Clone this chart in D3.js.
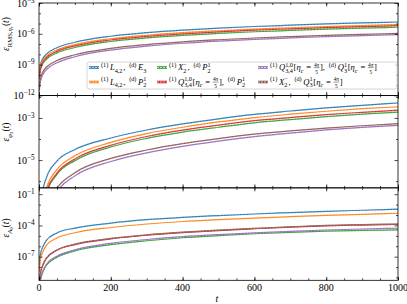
<!DOCTYPE html>
<html>
<head>
<meta charset="utf-8"/>
<script src="https://cdn.jsdelivr.net/npm/d3@7"></script>
<style>
body{margin:0;background:#fff;}
svg{display:block;font-family:"Liberation Serif","DejaVu Serif",serif;}
</style>
</head>
<body>
<svg id="chart" width="407" height="304"></svg>
<script>
// time samples and log10 of the errors
var tSamples = [1, 2, 5, 10, 20, 50, 100, 200, 300, 400, 500, 600, 700, 800, 900, 1000];

var rmsBlue   = [-9.95, -9.5, -8.9, -8.45, -8.0, -7.35, -6.82, -6.24, -5.89, -5.64, -5.45, -5.29, -5.16, -5.04, -4.94, -4.85];
var rmsOrange = [-10.12, -9.67, -9.08, -8.64, -8.2, -7.57, -7.05, -6.48, -6.14, -5.89, -5.70, -5.54, -5.41, -5.29, -5.19, -5.10];
var rmsGreen  = [-10.45, -10.0, -9.4, -8.95, -8.5, -7.86, -7.33, -6.75, -6.4, -6.15, -5.96, -5.80, -5.67, -5.55, -5.45, -5.36];
var rmsRed    = [-10.3, -9.85, -9.25, -8.8, -8.35, -7.71, -7.18, -6.6, -6.25, -6.0, -5.81, -5.65, -5.52, -5.40, -5.30, -5.21];
var rmsPurple = [-11.6, -11.12, -10.5, -10.02, -9.52, -8.82, -8.23, -7.58, -7.2, -6.92, -6.71, -6.54, -6.4, -6.28, -6.17, -6.08];
var rmsBrown  = [-11.3, -10.83, -10.22, -9.75, -9.28, -8.6, -8.04, -7.42, -7.05, -6.78, -6.58, -6.41, -6.27, -6.15, -6.05, -5.96];

var phiBlue   = [-8.6, -8.0, -7.2, -6.5, -5.87, -5.05, -4.5, -3.95, -3.57, -3.28, -3.04, -2.83, -2.67, -2.52, -2.4, -2.29];
var phiOrange = [-9.2, -8.6, -7.8, -7.05, -6.37, -5.45, -4.8, -4.16, -3.74, -3.44, -3.19, -2.98, -2.82, -2.68, -2.56, -2.47];
var phiGreen  = [-9.5, -8.9, -8.1, -7.35, -6.62, -5.68, -5.03, -4.38, -3.97, -3.67, -3.44, -3.23, -3.08, -2.94, -2.82, -2.72];
var phiRed    = [-9.4, -8.8, -8.0, -7.25, -6.55, -5.62, -4.95, -4.3, -3.88, -3.58, -3.34, -3.13, -2.98, -2.84, -2.73, -2.63];
var phiPurple = [-10.4, -9.8, -8.95, -8.25, -7.5, -6.5, -5.75, -5.07, -4.66, -4.35, -4.1, -3.89, -3.72, -3.57, -3.45, -3.35];
var phiBrown  = [-10.2, -9.6, -8.75, -8.05, -7.3, -6.33, -5.6, -4.92, -4.52, -4.22, -3.98, -3.77, -3.61, -3.48, -3.37, -3.27];

var a0Blue    = [-8.0, -7.4, -6.6, -6.1, -5.45, -4.72, -4.25, -3.78, -3.45, -3.22, -3.05, -2.9, -2.77, -2.65, -2.54, -2.44];
var a0Orange  = [-8.5, -7.9, -7.1, -6.6, -5.94, -5.2, -4.7, -4.2, -3.86, -3.62, -3.45, -3.29, -3.16, -3.04, -2.93, -2.83];
var a0Green   = [-10.4, -9.8, -9.1, -8.55, -7.85, -7.05, -6.45, -5.85, -5.47, -5.18, -4.98, -4.8, -4.66, -4.55, -4.48, -4.43];
var a0Red     = [-9.74, -9.14, -8.44, -7.89, -7.19, -6.39, -5.84, -5.29, -4.94, -4.69, -4.49, -4.32, -4.17, -4.04, -3.96, -3.9];
var a0Purple  = [-10.3, -9.7, -9.0, -8.45, -7.75, -6.95, -6.35, -5.72, -5.35, -5.07, -4.88, -4.72, -4.57, -4.44, -4.34, -4.27];
var a0Brown   = [-9.7, -9.1, -8.4, -7.85, -7.15, -6.35, -5.8, -5.25, -4.9, -4.65, -4.45, -4.28, -4.13, -4.0, -3.92, -3.86];

var xTicks = [0, 200, 400, 600, 800, 1000];
var colors = ["#1f77b4", "#ff7f0e", "#2ca02c", "#d62728", "#9467bd", "#8c564b"];

var sp = ["sp", 0.45];
var gp = ["sp", 0.12];
var eta = [["r", "["], ["i", "η"], ["ss", null, "c", true], ["sp", 0.25], ["r", "="], ["sp", 0.25], ["f", "4π", "5"], ["r", "]"]];
var legendLabels = [
  [["ss", "(1)", null], gp, ["i", "L"], ["ss", null, "4,2"], ["r", ","], sp, ["ss", "(d)", null], gp, ["i", "E"], ["ss", null, "3"]],
  [["ss", "(1)", null], gp, ["i", "L"], ["ss", null, "4,2"], ["r", ","], sp, ["ss", "(d)", null], gp, ["i", "P"], ["ss", "1", "2"]],
  [["ss", "(1)", null], gp, ["i", "X"], ["ss", "−", "2"], ["r", " ,"], sp, ["ss", "(d)", null], gp, ["i", "P"], ["ss", "1", "2"]],
  [["ss", "(1)", null], gp, ["i", "Q"], ["ss", "1,0", "3,4"]].concat(eta, [["r", ","], sp, ["ss", "(d)", null], gp, ["i", "P"], ["ss", "1", "2"]]),
  [["ss", "(1)", null], gp, ["i", "Q"], ["ss", "1,0", "3,4"]].concat(eta, [["r", ","], sp, ["ss", "(d)", null], gp, ["i", "Q"], ["ss", "1", "3"]], eta),
  [["ss", "(1)", null], gp, ["i", "X"], ["ss", "−", "2"], ["r", " ,"], sp, ["ss", "(d)", null], gp, ["i", "Q"], ["ss", "1", "3"]].concat(eta)
];

var panels = [
  {dom: [-12, -3], major: [-12, -9, -6, -3], minor: [-11, -10, -8, -7, -5, -4],
   series: [rmsBlue, rmsOrange, rmsGreen, rmsRed, rmsPurple, rmsBrown],
   label: [["hat", "ε"], ["t", "RMS, ", 0.7, 0.3, false], ["t", "η", 0.7, 0.3, true], ["t", "c", 0.5, 0.45, true], ["r", "("], ["i", "t"], ["r", ")"]], labelY: 34},
  {dom: [-6.32, -1.93], major: [-5, -3], minor: [-6, -4, -2],
   series: [phiBlue, phiOrange, phiGreen, phiRed, phiPurple, phiBrown],
   label: [["hat", "ε"], ["t", "φ", 0.7, 0.3, true], ["t", "2", 0.5, 0.45, false], ["r", "("], ["i", "t"], ["r", ")"]], labelY: 132},
  {dom: [-9.27, -0.39], major: [-7, -4, -1], minor: [-9, -8, -6, -5, -3, -2],
   series: [a0Blue, a0Orange, a0Green, a0Red, a0Purple, a0Brown],
   label: [["hat", "ε"], ["t", "A", 0.7, 0.3, true], ["t", "0", 0.5, 0.45, false], ["r", "("], ["i", "t"], ["r", ")"]], labelY: 228}
];

var svg = d3.select("#chart");
var left = 39, right = 398, top0 = 3, bottom0 = 280.3;
var ph = (bottom0 - top0) / 3;
var x = d3.scaleLinear([0, 1000], [left, right]);

// lays out a little math string, returns group and width
function mathText(parent, tokens, base) {
  var g = parent.append("g");
  var s = base * 0.72, cx = 0;
  function put(str, px, py, size, ital) {
    var t = g.append("text").attr("x", px).attr("y", py).style("font-size", size + "px").text(str);
    if (ital) t.style("font-style", "italic");
    return [t, t.node().getComputedTextLength()];
  }
  tokens.forEach(function(tk) {
    var k = tk[0];
    if (k === "r" || k === "i") {
      cx += put(tk[1], cx, 0, base, k === "i")[1];
    } else if (k === "sp") {
      cx += base * tk[1];
    } else if (k === "t") {
      cx += put(tk[1], cx, base * tk[3], base * tk[2], tk[4])[1];
    } else if (k === "hat") {
      var w = put(tk[1], cx, 0, base, true)[1];
      g.append("text").attr("x", cx + w * 0.6).attr("y", -base * 0.42).attr("text-anchor", "middle")
        .style("font-size", base * 0.8 + "px").text("ˆ");
      cx += w;
    } else if (k === "ss") {
      var w2 = 0;
      if (tk[1]) w2 = Math.max(w2, put(tk[1], cx, -base * 0.38, s, false)[1]);
      if (tk[2]) w2 = Math.max(w2, put(tk[2], cx, base * 0.28, s, tk[3])[1]);
      cx += w2 + base * 0.08;
    } else if (k === "f") {
      var a = put(tk[1], cx, -base * 0.4, s * 0.85, false);
      var b = put(tk[2], cx, base * 0.4, s * 0.85, false);
      var fw = Math.max(a[1], b[1]) + base * 0.15;
      a[0].attr("x", cx + (fw - a[1]) / 2);
      b[0].attr("x", cx + (fw - b[1]) / 2);
      g.append("line").attr("x1", cx + base * 0.04).attr("x2", cx + fw - base * 0.04)
        .attr("y1", -base * 0.3).attr("y2", -base * 0.3).attr("stroke", "#000").attr("stroke-width", 0.4);
      cx += fw;
    }
  });
  return {g: g, width: cx};
}

panels.forEach(function(p, i) {
  var pt = top0 + i * ph, pb = pt + ph;
  var y = d3.scaleLog([Math.pow(10, p.dom[0]), Math.pow(10, p.dom[1])], [pb, pt]);
  var g = svg.append("g");

  svg.append("clipPath").attr("id", "clip" + i).append("rect")
    .attr("x", left).attr("y", pt).attr("width", right - left).attr("height", ph);

  var line = d3.line()
    .x(function(d) { return x(d[0]); })
    .y(function(d) { return y(Math.pow(10, d[1])); })
    .curve(d3.curveMonotoneX);

  var lines = g.append("g").attr("clip-path", "url(#clip" + i + ")");
  p.series.forEach(function(vals, j) {
    var pts = tSamples.map(function(t, k) { return [t, vals[k]]; });
    lines.append("path").attr("d", line(pts)).attr("fill", "none")
      .attr("stroke", colors[j]).attr("stroke-width", 1.2);
    lines.append("path").attr("d", line(pts)).attr("fill", "none")
      .attr("stroke", "#fff").attr("stroke-opacity", 0.4).attr("stroke-width", 0.6)
      .attr("stroke-dasharray", "1.6,1.6");
  });

  // ticks on all four sides, pointing inward
  function ticks(axis, tr) {
    var a = g.append("g").attr("transform", tr).call(axis);
    a.select(".domain").remove();
    a.selectAll("line").attr("stroke", "#000").attr("stroke-width", 0.7);
    a.selectAll("text").remove();
  }
  var yMaj = p.major.map(function(v) { return Math.pow(10, v); });
  var yMin = p.minor.map(function(v) { return Math.pow(10, v); });
  ticks(d3.axisLeft(y).tickValues(yMaj).tickSize(-3.5), "translate(" + left + ",0)");
  ticks(d3.axisRight(y).tickValues(yMaj).tickSize(-3.5), "translate(" + right + ",0)");
  ticks(d3.axisLeft(y).tickValues(yMin).tickSize(-2), "translate(" + left + ",0)");
  ticks(d3.axisRight(y).tickValues(yMin).tickSize(-2), "translate(" + right + ",0)");
  ticks(d3.axisBottom(x).tickValues(xTicks).tickSize(-3.5), "translate(0," + pb + ")");
  ticks(d3.axisTop(x).tickValues(xTicks).tickSize(-3.5), "translate(0," + pt + ")");
  ticks(d3.axisBottom(x).ticks(20).tickSize(-2), "translate(0," + pb + ")");
  ticks(d3.axisTop(x).ticks(20).tickSize(-2), "translate(0," + pt + ")");

  g.append("rect").attr("x", left).attr("y", pt).attr("width", right - left).attr("height", ph)
    .attr("fill", "none").attr("stroke", "#000").attr("stroke-width", 0.8);

  // y tick labels 10^n
  p.major.forEach(function(v) {
    var m = mathText(g, [["r", "10"], ["ss", "−" + (-v), null]], 10);
    m.g.attr("transform", "translate(" + (35.5 - m.width) + "," + (y(Math.pow(10, v)) + 3.5) + ")");
  });

  // y label
  var lg = g.append("g").attr("transform", "translate(9," + p.labelY + ") rotate(-90)");
  var ml = mathText(lg, p.label, 9.5);
  ml.g.attr("transform", "translate(" + (-ml.width / 2) + ",0)");

  if (i === 2) {
    xTicks.forEach(function(t) {
      g.append("text").attr("x", x(t)).attr("y", 291).attr("text-anchor", "middle")
        .style("font-size", "10px").text(t);
    });
    g.append("text").attr("x", 217).attr("y", 301.5).attr("text-anchor", "middle")
      .style("font-size", "10px").style("font-style", "italic").text("t");
  }
});

// legend in the top panel
var leg = svg.append("g");
leg.append("rect").attr("x", 87).attr("y", 62).attr("width", 310).attr("height", 27).attr("rx", 2)
  .attr("fill", "#fff").attr("fill-opacity", 0.8).attr("stroke", "#cccccc").attr("stroke-width", 0.8);
var colX = [89, 157, 258];
var rowY = [67.5, 82];
legendLabels.forEach(function(lab, j) {
  var c = Math.floor(j / 2), r = j % 2;
  var hx = colX[c], hy = rowY[r];
  leg.append("line").attr("x1", hx).attr("x2", hx + 10).attr("y1", hy).attr("y2", hy)
    .attr("stroke", colors[j]).attr("stroke-width", 2.6);
  leg.append("line").attr("x1", hx).attr("x2", hx + 10).attr("y1", hy).attr("y2", hy)
    .attr("stroke", "#fff").attr("stroke-opacity", 0.85).attr("stroke-width", 0.8).attr("stroke-dasharray", "2,1");
  var m = mathText(leg, lab, 8.6);
  m.g.attr("transform", "translate(" + (hx + 12) + "," + (hy + 2.7) + ")");
});
</script>
</body>
</html>
